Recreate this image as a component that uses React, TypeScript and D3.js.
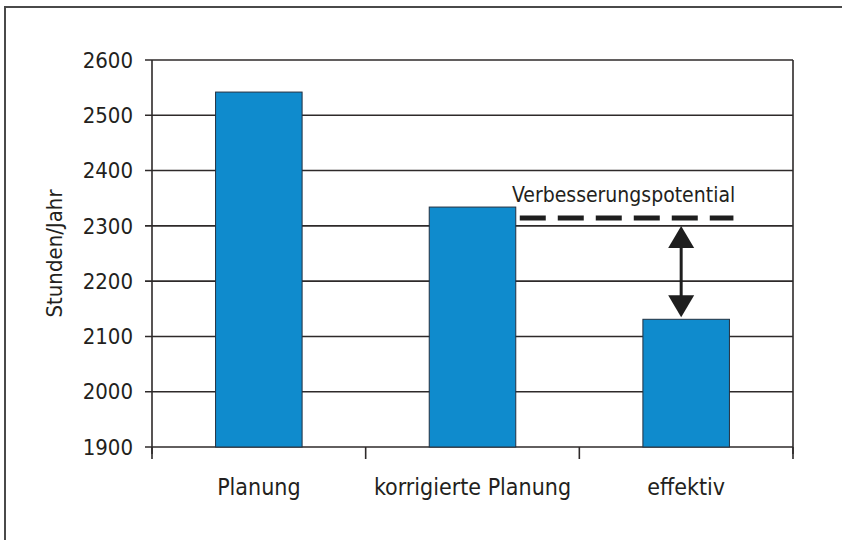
import React, { useEffect, useRef } from 'react';
import * as d3 from 'd3';

const categories = ['Planung', 'korrigierte Planung', 'effektiv'];
const hours = [2542, 2334, 2131];
const yTicks = [1900, 2000, 2100, 2200, 2300, 2400, 2500, 2600];
const potentialLabel = 'Verbesserungspotential';
const potentialLevel = 2314;
const yTitle = 'Stunden/Jahr';

const FONT = '"DejaVu Sans Condensed", "Liberation Sans Narrow", sans-serif';

const App = () => {
  const ref = useRef(null);

  useEffect(() => {
    if (!ref.current) return;
    const W = 842, H = 540;
    const margin = { top: 60, right: 49, bottom: 93, left: 152 };

    d3.select(ref.current).selectAll('*').remove();
    const root = d3.select(ref.current)
      .append('svg')
      .attr('width', W)
      .attr('height', H)
      .style('position', 'absolute')
      .style('left', 0)
      .style('top', 0)
      .style('background', '#fff');

    // outer frame (top + left edge of the scanned box)
    root.append('path')
      .attr('d', `M5,${H} L5,7 L${W},7`)
      .attr('fill', 'none')
      .attr('stroke', '#4a4a4a')
      .attr('stroke-width', 2);

    const width = W - margin.left - margin.right;
    const height = H - margin.top - margin.bottom;
    const svg = root.append('g').attr('transform', `translate(${margin.left},${margin.top})`);

    const x = d3.scaleBand().domain(categories).range([0, width]).padding(0);
    const y = d3.scaleLinear().domain([1900, 2600]).range([height, 0]);

    // gridlines + left ticks
    svg.selectAll('.grid')
      .data(yTicks)
      .enter()
      .append('line')
      .attr('x1', -7)
      .attr('x2', width)
      .attr('y1', d => y(d))
      .attr('y2', d => y(d))
      .attr('stroke', '#2e2a2a')
      .attr('stroke-width', 1.6);

    svg.selectAll('.ylab')
      .data(yTicks)
      .enter()
      .append('text')
      .attr('x', -19)
      .attr('y', d => y(d))
      .attr('dy', '0.35em')
      .attr('text-anchor', 'end')
      .style('font-family', FONT)
      .style('font-size', '22px')
      .attr('fill', '#231f20')
      .text(d => d);

    // axes lines
    svg.append('line').attr('x1', 0).attr('x2', 0).attr('y1', 0).attr('y2', height + 7)
      .attr('stroke', '#2e2a2a').attr('stroke-width', 1.6);
    svg.append('line').attr('x1', width).attr('x2', width).attr('y1', 0).attr('y2', height + 7)
      .attr('stroke', '#2e2a2a').attr('stroke-width', 1.6);
    const bounds = categories.map(c => x(c)).concat([width]);
    svg.selectAll('.xtick')
      .data(bounds)
      .enter()
      .append('line')
      .attr('x1', d => d).attr('x2', d => d)
      .attr('y1', height).attr('y2', height + 12)
      .attr('stroke', '#2e2a2a').attr('stroke-width', 1.6);

    // bars
    const barW = x.bandwidth() * 0.405;
    svg.selectAll('.bar')
      .data(categories)
      .enter()
      .append('rect')
      .attr('x', c => x(c) + (x.bandwidth() - barW) / 2)
      .attr('y', (c, i) => y(hours[i]))
      .attr('width', barW)
      .attr('height', (c, i) => height - y(hours[i]))
      .attr('fill', '#0f8bcd')
      .attr('stroke', '#233040')
      .attr('stroke-width', 1);

    // category labels
    svg.selectAll('.xlab')
      .data(categories)
      .enter()
      .append('text')
      .attr('x', c => x(c) + x.bandwidth() / 2)
      .attr('y', height + 48)
      .attr('text-anchor', 'middle')
      .style('font-family', FONT)
      .style('font-size', '23px')
      .attr('fill', '#231f20')
      .text(c => c);

    // y title
    svg.append('text')
      .attr('transform', `translate(-90,${y(2250)}) rotate(-90)`)
      .attr('text-anchor', 'middle')
      .style('font-family', FONT)
      .style('font-size', '22px')
      .attr('fill', '#231f20')
      .text(yTitle);

    // improvement potential
    const midRight = x(categories[1]) + (x.bandwidth() + barW) / 2;
    const lastRight = x(categories[2]) + (x.bandwidth() + barW) / 2;
    const yPot = y(potentialLevel);
    svg.append('line')
      .attr('x1', midRight + 4).attr('x2', lastRight + 4)
      .attr('y1', yPot).attr('y2', yPot)
      .attr('stroke', '#1e1e1e')
      .attr('stroke-width', 5)
      .attr('stroke-dasharray', '26 12');

    svg.append('text')
      .attr('x', (midRight + lastRight) / 2 + 1)
      .attr('y', yPot - 16)
      .attr('text-anchor', 'middle')
      .style('font-family', FONT)
      .style('font-size', '21px')
      .attr('fill', '#231f20')
      .text(potentialLabel);

    // double arrow
    const ax = x(categories[2]) + x.bandwidth() / 2 - 5;
    const yTop = yPot + 8;
    const yBot = y(hours[2]) - 2;
    const head = 22, half = 13;
    svg.append('line')
      .attr('x1', ax).attr('x2', ax)
      .attr('y1', yTop + head - 2).attr('y2', yBot - head + 2)
      .attr('stroke', '#1e1e1e').attr('stroke-width', 3);
    svg.append('path')
      .attr('d', `M${ax},${yTop} L${ax - half},${yTop + head} L${ax + half},${yTop + head} Z`)
      .attr('fill', '#1e1e1e');
    svg.append('path')
      .attr('d', `M${ax},${yBot} L${ax - half},${yBot - head} L${ax + half},${yBot - head} Z`)
      .attr('fill', '#1e1e1e');
  }, []);

  return <div ref={ref} />;
};

export default App;
